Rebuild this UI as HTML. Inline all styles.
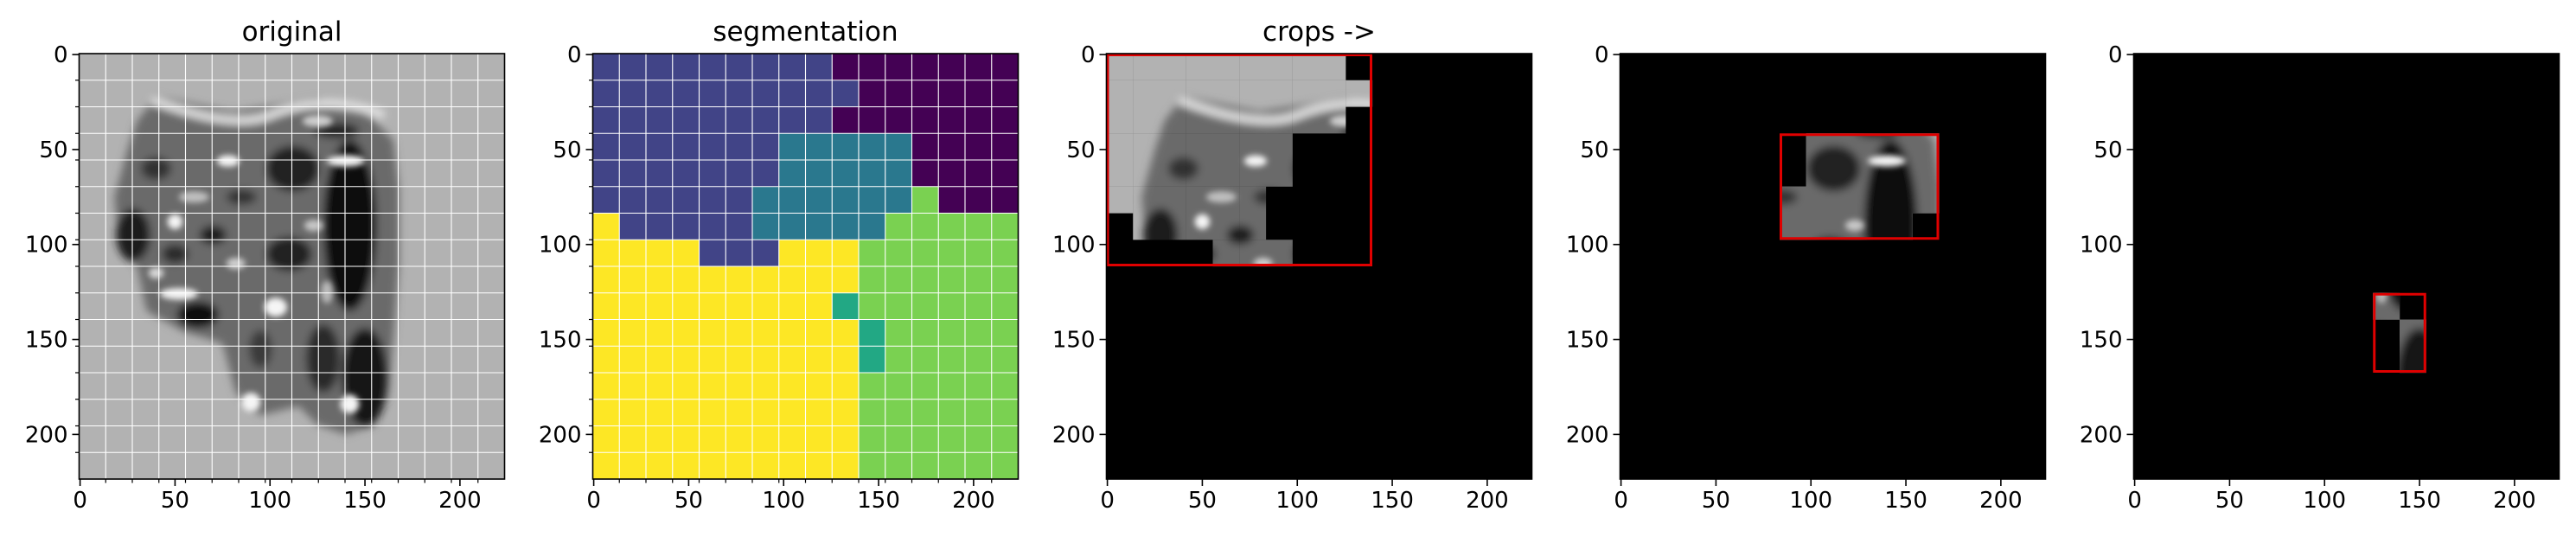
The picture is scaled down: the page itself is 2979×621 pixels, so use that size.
<!DOCTYPE html>
<html><head><meta charset="utf-8"><style>
html,body{margin:0;padding:0;background:#fff;}
svg{display:block;}
text{font-family:"DejaVu Sans","Liberation Sans",sans-serif;fill:#000;}
</style></head><body>
<svg id="fig" width="2979" height="621" viewBox="0 0 2979 621" xmlns="http://www.w3.org/2000/svg">
<defs>
  <filter id="blur" x="-20%" y="-20%" width="140%" height="140%"><feGaussianBlur stdDeviation="2.2"/></filter>
  <filter id="blur2" x="-20%" y="-20%" width="140%" height="140%"><feGaussianBlur stdDeviation="1.6"/></filter>
  <g id="cell">
    <rect x="-0.5" y="-0.5" width="224" height="224" fill="#b2b2b2"/>
    <g filter="url(#blur)">
      <path d="M40,22 L55,25 L80,30 L100,27 L125,23 L150,30 L165,45 L168,70 L168,110 L165,150 L162,180 L155,195 L140,200 L125,195 L115,185 L95,190 L82,178 L75,152 L55,146 L35,135 L30,112 L20,95 L18,75 L25,50 L30,35 Z" fill="#6a6a6a"/>
      <path d="M38,24 Q80,40 100,32 Q130,20 160,32" stroke="#e8e8e8" stroke-width="4" fill="none"/>
      <ellipse cx="142" cy="90" rx="14" ry="45" fill="#111"/>
      <ellipse cx="150" cy="170" rx="12" ry="26" fill="#151515"/>
      <ellipse cx="112" cy="60" rx="14" ry="12" fill="#222"/>
      <ellipse cx="28" cy="95" rx="9" ry="14" fill="#1a1a1a"/>
      <ellipse cx="62" cy="137" rx="11" ry="7" fill="#0d0d0d"/>
      <ellipse cx="70" cy="95" rx="7" ry="5" fill="#1a1a1a"/>
      <ellipse cx="110" cy="105" rx="12" ry="9" fill="#222"/>
      <ellipse cx="128" cy="160" rx="9" ry="18" fill="#2a2a2a"/>
      <ellipse cx="40" cy="60" rx="8" ry="6" fill="#333"/>
      <ellipse cx="85" cy="75" rx="8" ry="4" fill="#333"/>
      <ellipse cx="50" cy="105" rx="7" ry="5" fill="#2a2a2a"/>
      <ellipse cx="95" cy="155" rx="6" ry="10" fill="#3a3a3a"/>
      <ellipse cx="135" cy="40" rx="12" ry="4" fill="#222"/>
    </g>
    <g filter="url(#blur2)" fill="#f5f5f5">
      <ellipse cx="50" cy="88" rx="4" ry="4"/>
      <ellipse cx="103" cy="133" rx="6" ry="5"/>
      <ellipse cx="142" cy="184" rx="5" ry="5"/>
      <ellipse cx="90" cy="183" rx="5" ry="5"/>
      <ellipse cx="140" cy="56" rx="10" ry="3"/>
      <ellipse cx="78" cy="56" rx="6" ry="3"/>
      <ellipse cx="52" cy="126" rx="10" ry="3"/>
      <ellipse cx="82" cy="110" rx="5" ry="3" fill="#d0d0d0"/>
      <ellipse cx="123" cy="90" rx="5" ry="3" fill="#c8c8c8"/>
      <ellipse cx="60" cy="75" rx="8" ry="3" fill="#c0c0c0"/>
      <ellipse cx="125" cy="35" rx="8" ry="3" fill="#cfcfcf"/>
      <ellipse cx="40" cy="115" rx="4" ry="3" fill="#d8d8d8"/>
      <ellipse cx="130" cy="125" rx="3" ry="6" fill="#bbb"/>
    </g>
  </g>
</defs>
</svg>
<script>
const NS="http://www.w3.org/2000/svg";
const svg=document.getElementById('fig');
// ---- data ----
const panelTitles=["original","segmentation","crops ->","",""];
const tickValues=[0,50,100,150,200];
const tickLabels=["0","50","100","150","200"];
const patchSize=14;
const nPatches=16;
const segRows=[
"BBBBBBBBBPPPPPPP",
"BBBBBBBBBBPPPPPP",
"BBBBBBBBBPPPPPPP",
"BBBBBBBTTTTTPPPP",
"BBBBBBBTTTTTPPPP",
"BBBBBBTTTTTTLPPP",
"YBBBBBTTTTTLLLLL",
"YYYYBBBYYYLLLLLL",
"YYYYYYYYYYLLLLLL",
"YYYYYYYYYGLLLLLL",
"YYYYYYYYYYGLLLLL",
"YYYYYYYYYYGLLLLL",
"YYYYYYYYYYLLLLLL",
"YYYYYYYYYYLLLLLL",
"YYYYYYYYYYLLLLLL",
"YYYYYYYYYYLLLLLL"];
const classColors={P:"#440154",B:"#414487",T:"#2a788e",G:"#22a884",L:"#7ad151",Y:"#fde725"};
const cropClasses=["B","T","G"];
// ---- layout ----
const panelLeft=[91.5,685.5,1279.5,1873.5,2467.5];
const axTop=62, axSize=492, sc=axSize/224;
function X(i,v){return panelLeft[i]+(v+0.5)*sc;}
function Y(v){return axTop+(v+0.5)*sc;}
function el(tag,attrs,parent){const e=document.createElementNS(NS,tag);for(const k in attrs)e.setAttribute(k,attrs[k]);(parent||svg).appendChild(e);return e;}

for(let p=0;p<5;p++){
  const g=el('g',{});
  
  
  const cid='clip'+p;
  const cp=el('clipPath',{id:cid});
  el('rect',{x:panelLeft[p],y:axTop,width:axSize,height:axSize},cp);
  const img=el('g',{'clip-path':'url(#'+cid+')'},g);
  
  
  const tr='translate('+panelLeft[p]+','+axTop+') scale('+sc+') translate(0.5,0.5)';
  if(p===0){
    el('use',{href:'#cell',transform:tr},img);
  } else if(p===1){
    for(let r=0;r<nPatches;r++)for(let c=0;c<nPatches;c++){
      const x0=X(p,c*patchSize-0.5),y0=Y(r*patchSize-0.5);
      const rc=el('rect',{x:x0,y:y0,width:patchSize*sc+0.6,height:patchSize*sc+0.6,fill:classColors[segRows[r][c]]},img);
      
      
    }
  } else {
    el('rect',{x:panelLeft[p],y:axTop,width:axSize,height:axSize,fill:'#000'},img);
    const cls=cropClasses[p-2];
    let minR=99,maxR=-1,minC=99,maxC=-1;
    const mid='mask'+p;
    const mcp=el('clipPath',{id:mid});
    for(let r=0;r<nPatches;r++)for(let c=0;c<nPatches;c++){
      if(segRows[r][c]===cls){
        minR=Math.min(minR,r);maxR=Math.max(maxR,r);minC=Math.min(minC,c);maxC=Math.max(maxC,c);
        el('rect',{x:c*patchSize-0.5,y:r*patchSize-0.5,width:patchSize+0.05,height:patchSize+0.05},mcp);
      }
    }
    const cg=el('g',{transform:tr},img);
    el('use',{href:'#cell','clip-path':'url(#'+mid+')'},cg);
    const bx=X(p,minC*patchSize-0.5),by=Y(minR*patchSize-0.5);
    const bw=(maxC-minC+1)*patchSize*sc,bh=(maxR-minR+1)*patchSize*sc;
    const box=el('rect',{x:bx+1.5,y:by+1.5,width:bw-3,height:bh-3,fill:'none',stroke:'#e00000','stroke-width':3},g);
    
    
  }
  if(p<2){
    for(let k=1;k<nPatches;k++){
      const v=k*patchSize-0.5;
      el('line',{x1:X(p,v),x2:X(p,v),y1:axTop,y2:axTop+axSize,stroke:'#fff','stroke-width':1.1},g);
      el('line',{y1:Y(v),y2:Y(v),x1:panelLeft[p],x2:panelLeft[p]+axSize,stroke:'#fff','stroke-width':1.1},g);
      el('line',{x1:X(p,v),x2:X(p,v),y1:axTop+axSize,y2:axTop+axSize+4.5,stroke:'#000','stroke-width':1.2},g);
      el('line',{x1:panelLeft[p]-4.5,x2:panelLeft[p],y1:Y(v),y2:Y(v),stroke:'#000','stroke-width':1.2},g);
    }
  }
  const fr=el('rect',{x:panelLeft[p],y:axTop,width:axSize,height:axSize,fill:'none',stroke:'#000','stroke-width':1.6},g);
  
  
  tickValues.forEach((v,i)=>{
    el('line',{x1:X(p,v),x2:X(p,v),y1:axTop+axSize,y2:axTop+axSize+8,stroke:'#000','stroke-width':1.6},g);
    const tx=el('text',{x:X(p,v),y:axTop+axSize+33,'font-size':26,'text-anchor':'middle'},g);
    tx.textContent=tickLabels[i];
    
    
    el('line',{x1:panelLeft[p]-8,x2:panelLeft[p],y1:Y(v),y2:Y(v),stroke:'#000','stroke-width':1.6},g);
    const ty=el('text',{x:panelLeft[p]-13,y:Y(v)+9,'font-size':26,'text-anchor':'end'},g);
    ty.textContent=tickLabels[i];
    
    
  });
  if(panelTitles[p]){
    const t=el('text',{x:panelLeft[p]+axSize/2,y:47,'font-size':31,'text-anchor':'middle'},g);
    t.textContent=panelTitles[p];
    
    
  }
}
</script>
</body></html>
